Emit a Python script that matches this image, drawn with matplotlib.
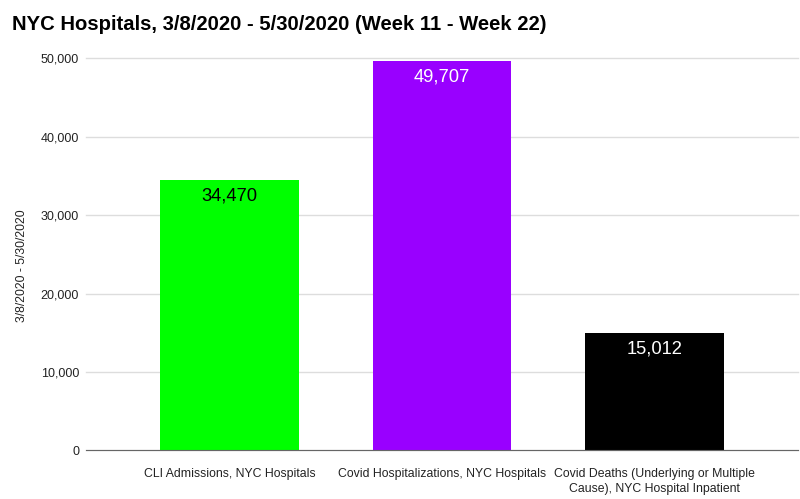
import matplotlib.pyplot as plt
from matplotlib.ticker import FuncFormatter

plt.rcParams['font.family'] = ['Liberation Sans', 'DejaVu Sans']

# ===== DATA =====
categories = [
    "CLI Admissions, NYC Hospitals",
    "Covid Hospitalizations, NYC Hospitals",
    "Covid Deaths (Underlying or Multiple\nCause), NYC Hospital Inpatient",
]
values = [34470, 49707, 15012]
bar_colors = ["#00ff00", "#9900ff", "#000000"]
label_colors = ["#000000", "#ffffff", "#ffffff"]
y_ticks = [0, 10000, 20000, 30000, 40000, 50000]

# ===== FIGURE =====
fig = plt.figure(figsize=(8, 4.99), dpi=100)
ax = fig.add_axes([0.1075, 0.0976, 0.89, 0.7855])

x = list(range(len(categories)))
bars = ax.bar(x, values, width=0.65, color=bar_colors, zorder=3)

# số liệu ghi bên trong đỉnh cột
for b, v, c in zip(bars, values, label_colors):
    ax.text(b.get_x() + b.get_width() / 2, v - 1000, f"{v:,}",
            ha="center", va="top", fontsize=13.2, color=c, zorder=4)

ax.set_xlim(-0.675, 2.675)
ax.set_ylim(0, 50000)
ax.set_yticks(y_ticks)
ax.yaxis.set_major_formatter(FuncFormatter(lambda v, p: f"{int(v):,}"))
ax.set_xticks(x)
ax.set_xticklabels(categories, fontsize=8.8, color="#222222", linespacing=1.3)

ax.grid(axis="y", color="#dddddd", linewidth=1, zorder=0)
for g in ax.get_ygridlines():
    g.set_clip_on(False)
for s in ["top", "right", "left"]:
    ax.spines[s].set_visible(False)
ax.spines["bottom"].set_color("#666666")
ax.spines["bottom"].set_zorder(5)
ax.tick_params(axis="both", length=0, colors="#222222")
ax.tick_params(axis="y", pad=5, labelsize=9)
ax.tick_params(axis="x", pad=13, labelsize=8.8)

ax.set_ylabel("3/8/2020 - 5/30/2020", fontsize=8.7, color="#222222",
              labelpad=9, y=0.472)

fig.text(0.015, 0.951, "NYC Hospitals, 3/8/2020 - 5/30/2020 (Week 11 - Week 22)",
         fontsize=14.6, fontweight="bold", ha="left", va="center", color="#000000")

fig.savefig("out.png", dpi=100)
